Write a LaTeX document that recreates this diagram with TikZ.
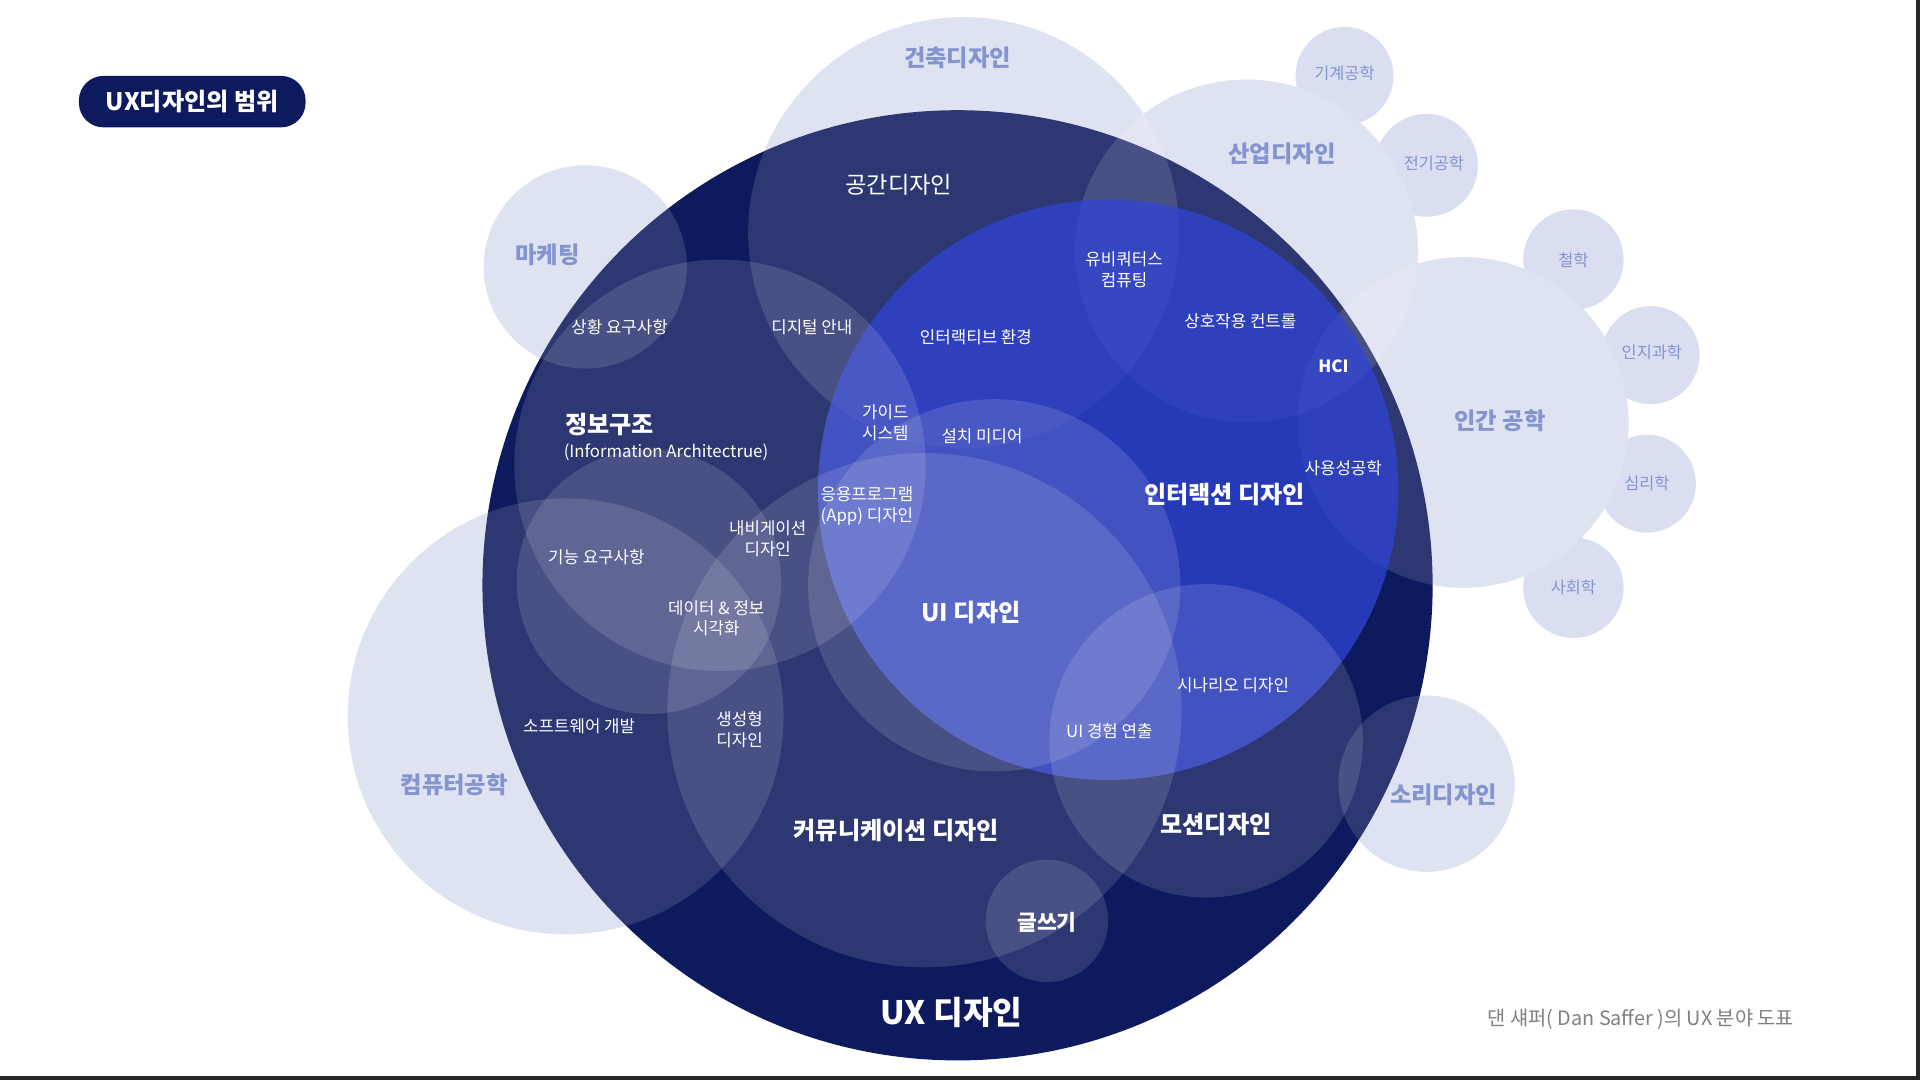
\documentclass[tikz,border=0pt]{standalone}
\usepackage{fontspec}
\setmainfont{Noto Sans CJK KR}
\begin{document}
\begin{tikzpicture}[x=0.01cm,y=-0.01cm,
 outer/.style={fill=outerc},
 veil/.style={fill=white,fill opacity=0.13},
 lab/.style={text=white,font=\fontsize{3.9}{4.8}\selectfont,align=center},
 mid/.style={text=white,font=\bfseries\fontsize{5.6}{6.5}\selectfont,align=center},
 big/.style={text=white,font=\bfseries\fontsize{7.5}{9}\selectfont},
 olab/.style={text=outtext,font=\bfseries\fontsize{5.4}{6.5}\selectfont},
 slab/.style={text=outtext,font=\fontsize{3.8}{5}\selectfont}]
\definecolor{navy}{HTML}{0E1A5E}
\definecolor{outerc}{HTML}{D9DFF0}
\definecolor{outtext}{HTML}{8494CF}
\definecolor{iblue}{HTML}{2F44D6}
\useasboundingbox (0,0) rectangle (1568,882);
\fill[white] (0,0) rectangle (1568,882);
% outer circles
\foreach \x/\y/\r in {787/190/176, 1018/205/140, 1098/62/40, 1165/135/42, 1195/345/135, 1285/212/41, 1348/290/40, 1345/395/40, 1285/480/41, 478/218/83, 462/585/178, 1165/640/72}
  \fill[outerc] (\x,\y) circle (\r);
% UX
\fill[navy] (782,478) circle (388) node (ux) {};
% veils of outer circles
\foreach \x/\y/\r in {787/190/176, 1018/205/140, 1195/345/135, 478/218/83, 462/585/178, 1165/640/72}
  \fill[veil] (\x,\y) circle (\r);
% interaction
\fill[iblue,fill opacity=0.75] (905,400) circle (237);
% inner circles
\foreach \x/\y/\r in {588/380/168, 530/475/108, 755/580/210, 812/478/152, 985/605/128, 855/752/50}
  \fill[veil] (\x,\y) circle (\r);
% title
\node[fill=navy,rounded corners=2mm,minimum width=1.85cm,minimum height=0.41cm,text=white,font=\bfseries\fontsize{5.6}{6.5}\selectfont] (title) at (157,83) {UX디자인의 범위};
% outer labels
\node[olab] (a1) at (782,47) {건축디자인};
\node[olab] (a2) at (1047,126) {산업디자인};
\node[olab] (a3) at (1225,344) {인간 공학};
\node[olab] (a4) at (447,208) {마케팅};
\node[olab] (a5) at (371,641) {컴퓨터공학};
\node[olab] (a6) at (1179,649) {소리디자인};
\node[slab] (b1) at (1098,60) {기계공학};
\node[slab] (b2) at (1171,133) {전기공학};
\node[slab] (b3) at (1285,213) {철학};
\node[slab] (b4) at (1349,288) {인지과학};
\node[slab] (b5) at (1345,395) {심리학};
\node[slab] (b6) at (1285,480) {사회학};
% inner labels
\node[text=white,font=\fontsize{5.4}{6.5}\selectfont] (c1) at (734,151) {공간디자인};
\node[lab] (c2) at (918,220) {유비쿼터스\\컴퓨팅};
\node[lab] (c3) at (506,267) {상황 요구사항};
\node[lab] (c4) at (663,267) {디지털 안내};
\node[lab] (c5) at (797,275) {인터랙티브 환경};
\node[lab,font=\bfseries\fontsize{3.9}{4.8}\selectfont] (c7) at (1089,299) {HCI};
\node[lab] (c6) at (1013,262) {상호작용 컨트롤};
\node[mid,anchor=west] (c8) at (449,347) {정보구조};
\node[lab,anchor=west] (c9) at (448,369) {(Information Architectrue)};
\node[lab] (c10) at (723,345) {가이드\\시스템};
\node[lab] (c11) at (802,356) {설치 미디어};
\node[lab] (c12) at (1097,382) {사용성공학};
\node[mid] (c13) at (1000,404) {인터랙션 디자인};
\node[lab] (c14) at (708,413) {응용프로그램\\(App) 디자인};
\node[lab] (c15) at (627,440) {내비게이션\\디자인};
\node[lab] (c16) at (487,455) {기능 요구사항};
\node[lab] (c17) at (585,505) {데이터 \& 정보\\시각화};
\node[mid] (c18) at (793,500) {UI 디자인};
\node[lab] (c19) at (1007,560) {시나리오 디자인};
\node[lab] (c20) at (473,593) {소프트웨어 개발};
\node[lab] (c21) at (604,596) {생성형\\디자인};
\node[lab] (c22) at (906,597) {UI 경험 연출};
\node[mid] (c23) at (993,673) {모션디자인};
\node[mid] (c24) at (732,678) {커뮤니케이션 디자인};
\node[mid,font=\bfseries\fontsize{5}{6}\selectfont] (c25) at (855,753) {글쓰기};
\node[big] (c26) at (777,827) {UX 디자인};
\node[text=gray,font=\fontsize{4.6}{5.5}\selectfont] (foot) at (1340,832) {댄 섀퍼( Dan Saffer )의 UX 분야 도표};
\fill[black!85] (0,879) rectangle (1568,882);
\fill[black!85] (1565,0) rectangle (1568,882);
\end{tikzpicture}
\end{document}
